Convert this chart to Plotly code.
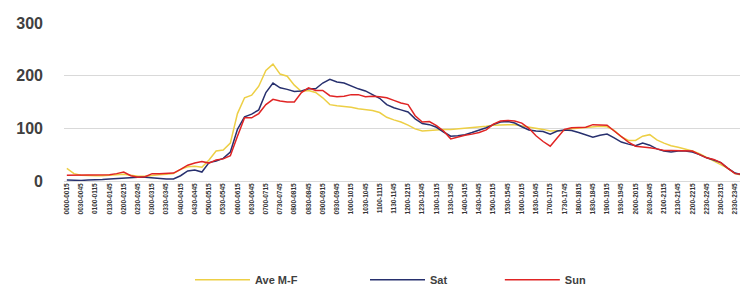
import plotly.graph_objects as go

# 15-minute intervals over the day
times = [f"{h:02d}{m:02d}" for h in range(24) for m in (0, 15, 30, 45)]
categories = [f"{times[i]}-{times[i + 1] if i < 95 else '2400'}" for i in range(96)]
tick_labels = categories[::2]

ave_mf = [24, 14, 11, 10, 10, 10, 11, 12, 13, 11, 9, 9, 11, 12, 13, 14,
          22, 27, 28, 26, 40, 57, 59, 72, 128, 158, 163, 180, 210, 222, 203, 199,
          182, 170, 172, 168, 158, 145, 143, 142, 140, 137, 135, 134, 130, 121, 116, 112,
          106, 99, 95, 96, 98, 98, 98, 99, 100, 101, 103, 104, 106, 107, 107, 107,
          105, 103, 101, 98, 95, 95, 96, 99, 100, 101, 102, 104, 103, 96, 84, 77,
          77, 85, 88, 78, 72, 67, 64, 61, 57, 52, 45, 38, 30, 24, 14, 11]

sat = [2, 1, 1, 2, 2, 3, 4, 5, 6, 7, 7, 7, 6, 4, 4, 4,
       10, 19, 21, 17, 35, 38, 43, 55, 98, 122, 127, 135, 168, 186, 177, 174,
       170, 171, 175, 175, 186, 193, 188, 186, 180, 175, 171, 164, 157, 145, 139, 135,
       131, 118, 109, 107, 102, 93, 85, 86, 88, 92, 96, 101, 107, 112, 113, 110,
       103, 97, 95, 94, 89, 95, 97, 96, 92, 87, 83, 87, 89, 82, 74, 70,
       67, 72, 68, 61, 57, 55, 57, 57, 55, 50, 44, 40, 35, 24, 15, 12]

sun = [11, 11, 11, 11, 12, 12, 12, 14, 17, 10, 7, 8, 14, 14, 15, 15,
       22, 30, 34, 37, 34, 40, 42, 48, 85, 120, 120, 128, 145, 155, 152, 150,
       150, 168, 177, 172, 172, 162, 160, 161, 164, 164, 160, 161, 160, 158, 153, 148,
       145, 124, 112, 113, 105, 95, 80, 84, 87, 89, 92, 97, 108, 114, 115, 114,
       110, 100, 86, 75, 66, 82, 98, 101, 101, 102, 107, 107, 106, 95, 84, 74,
       66, 65, 63, 61, 58, 58, 58, 58, 57, 50, 44, 41, 35, 24, 14, 13]

series = [
    ("Ave M-F", ave_mf, "#EDCF45", "legend"),
    ("Sat", sat, "#27306E", "legend2"),
    ("Sun", sun, "#E02424", "legend3"),
]

fig = go.Figure()
for name, vals, color, leg in series:
    fig.add_trace(go.Scatter(
        x=categories, y=vals, name=name, mode="lines",
        line=dict(color=color, width=1.5), legend=leg,
    ))

legend_font = dict(size=11, color="#404040", weight="bold")
def leg(x):
    return dict(orientation="h", x=x, xanchor="left", y=-0.625, yanchor="middle",
                font=legend_font, itemwidth=55, bgcolor="rgba(0,0,0,0)")

fig.update_layout(
    width=740, height=289,
    margin=dict(l=56, r=3, t=15, b=114),
    paper_bgcolor="white", plot_bgcolor="white",
    font=dict(family="Liberation Sans, Arial, sans-serif", color="#404040"),
    showlegend=True,
    legend=leg(0.185),
    legend2=leg(0.442),
    legend3=leg(0.640),
)
fig.update_xaxes(
    type="category", categoryorder="array", categoryarray=categories,
    range=[-0.4, 95.4],
    tickmode="array", tickvals=tick_labels, ticktext=tick_labels,
    tickangle=-90, tickfont=dict(size=6.5, color="#333333", weight="bold"),
    showgrid=False, showline=False, zeroline=False, ticks="",
)
fig.update_yaxes(
    range=[0, 300], tickvals=[0, 100, 200, 300],
    showgrid=True, gridcolor="#D9D9D9", gridwidth=1,
    zeroline=True, zerolinecolor="#D9D9D9", zerolinewidth=1,
    showline=False, ticks="",
    tickfont=dict(size=16, color="#404040", weight="bold"),
    ticklabelstandoff=20,
)

fig.write_html("out.html")
